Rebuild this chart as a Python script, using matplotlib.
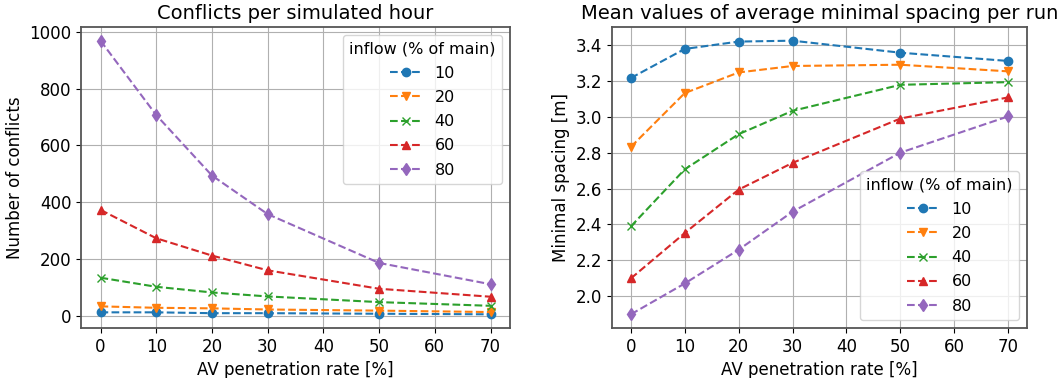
import numpy as np
import matplotlib
matplotlib.use('Agg')
import matplotlib.pyplot as plt

# AV penetration rates [%]
penetration = [0, 10, 20, 30, 50, 70]
inflows = ['10', '20', '40', '60', '80']

# conflicts per simulated hour, one list per inflow
conflicts_10 = [12, 12, 9, 9, 7, 5]
conflicts_20 = [33, 28, 26, 22, 18, 13]
conflicts_40 = [134, 102, 82, 68, 48, 35]
conflicts_60 = [373, 273, 212, 160, 95, 67]
conflicts_80 = [969, 707, 494, 358, 186, 111]

# mean minimal spacing [m]
spacing_10 = [3.216, 3.378, 3.419, 3.424, 3.357, 3.311]
spacing_20 = [2.832, 3.132, 3.247, 3.283, 3.290, 3.253]
spacing_40 = [2.389, 2.707, 2.903, 3.033, 3.178, 3.193]
spacing_60 = [2.099, 2.352, 2.594, 2.743, 2.990, 3.108]
spacing_80 = [1.899, 2.071, 2.259, 2.471, 2.800, 3.002]

conflicts = [conflicts_10, conflicts_20, conflicts_40, conflicts_60, conflicts_80]
spacing = [spacing_10, spacing_20, spacing_40, spacing_60, spacing_80]
markers = ['o', 'v', 'x', '^', 'd']

plt.rcParams['font.size'] = 12
plt.rcParams['axes.edgecolor'] = '#555555'
plt.rcParams['axes.linewidth'] = 1.3
plt.rcParams['grid.color'] = '#b0b0b0'

fig = plt.figure(figsize=(10.62, 3.78), dpi=100)
ax1 = fig.add_axes([81/1062, 1 - 328/378, 429/1062, 301/378])
ax2 = fig.add_axes([612/1062, 1 - 328/378, 415/1062, 301/378])

for ys, m, lab in zip(conflicts, markers, inflows):
    ax1.plot(penetration, ys, linestyle='--', marker=m, label=lab)
for ys, m, lab in zip(spacing, markers, inflows):
    ax2.plot(penetration, ys, linestyle='--', marker=m, label=lab)

leg_kw = dict(title='inflow (% of main)', fontsize=11.5, title_fontsize=11.5,
              labelspacing=0.58)

ax1.set_title('Conflicts per simulated hour', fontsize=14)
ax1.set_xlabel('AV penetration rate [%]')
ax1.set_ylabel('Number of conflicts')
ax1.set_yticks([0, 200, 400, 600, 800, 1000])
ax1.legend(loc='upper right', **leg_kw)

ax2.set_title('Mean values of average minimal spacing per run', fontsize=14)
ax2.set_xlabel('AV penetration rate [%]')
ax2.set_ylabel('Minimal spacing [m]')
ax2.legend(loc='lower right', **leg_kw)

for ax in (ax1, ax2):
    ax.set_xticks(range(0, 80, 10))
    ax.grid(True)

fig.savefig('out.png', dpi=100)
